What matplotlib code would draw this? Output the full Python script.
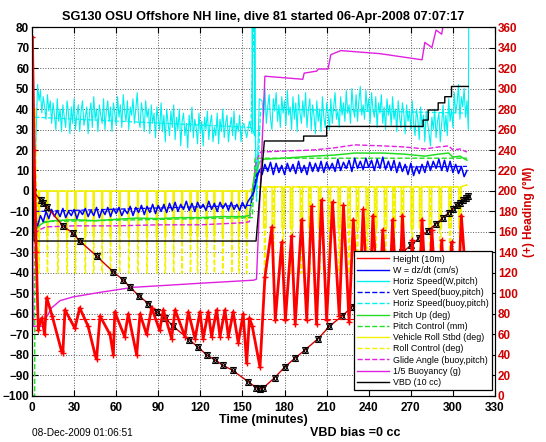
import numpy as np
import matplotlib
matplotlib.use("Agg")
import matplotlib.pyplot as plt
from matplotlib.lines import Line2D

plt.rcParams['font.family'] = ['Liberation Sans', 'DejaVu Sans']

title = "SG130 OSU Offshore NH line, dive 81 started 06-Apr-2008 07:07:17"

# depth (10 m units) at the CTD marker times (minutes)
depth_t = [0, 0.7, 6.4, 7.8, 10.7, 22, 29, 34, 46, 58, 65, 70, 76, 83, 89, 95, 100.6, 112, 118,
           124.6, 130.4, 136, 143, 154, 160, 162.5, 165, 173, 180, 187.5, 194.5, 204, 212, 221,
           228, 235, 242, 249, 256, 264, 270, 276, 282, 288, 293, 297, 300, 303, 305, 307, 309, 311]
depth_v = [0, -0.5, -4.4, -5.9, -7.8, -17, -20.5, -24.4, -31.7, -39.5, -43.4, -47, -51, -55, -59,
           -62, -66, -72.5, -76, -80, -82.4, -85, -87.5, -93, -96, -96.6, -96, -91, -86, -81.5,
           -77.6, -72, -66, -61, -56.6, -51.5, -46, -41, -36, -30, -26.5, -23, -19.5, -16, -13,
           -10.5, -9, -7, -6, -4.5, -3.5, -2.5]

# heading (deg, right axis)
head_t = [0.3, 1.5, 3, 4.5, 5.5, 7, 9, 10.5, 14.4, 21, 22, 23.5, 30.6, 34, 40, 45, 46, 48.5, 55.6,
          58, 59, 66, 68.6, 74.6, 77, 81.7, 85.3, 91, 93.6, 99.5, 102, 109, 111.4, 116.2, 119.7,
          122, 125.6, 128, 131.6, 134, 137.5, 140, 143.4, 147, 150.5, 153, 155, 157, 162.5, 166,
          171, 173.4, 178, 180.6, 185, 187.6, 192.2, 195.8, 199.3, 202.8, 206.4, 210, 214.2, 219,
          222, 226, 229, 233, 236, 240, 243, 247, 250, 254, 257, 261, 264, 268, 271, 275, 278,
          282, 285, 289, 292, 296, 299, 303, 306, 309]
head_deg = [350, 240, 140, 64, 72, 76, 60, 96, 78, 44, 42, 84, 66, 86, 68, 40, 36, 78, 60,
            40, 82, 58, 80, 40, 80, 60, 86, 64, 84, 56, 84, 58, 82, 56, 82,
            56, 82, 58, 84, 58, 84, 58, 82, 52, 80, 32, 76, 68, 28, 116,
            165, 74, 150, 74, 156, 70, 172, 74, 185, 70, 191, 74, 189, 78,
            186, 72, 172, 70, 182, 68, 176, 72, 162, 70, 172, 68, 176, 70, 152, 68, 172,
            66, 162, 68, 152, 66, 150, 70, 176, 120]
head_target = 75

# horizontal speed (W, pitch), cm/s, descent every minute from t=2 to 150
hspd_desc = [12, 30, 52, 44, 49, 38, 46, 41, 35, 47,
             39, 44, 33, 43, 37, 30, 45, 34, 40, 29,
             42, 36, 31, 44, 38, 28, 41, 33, 45, 30,
             37, 42, 29, 39, 44, 32, 36, 41, 28, 38,
             43, 31, 46, 35, 40, 29, 42, 37, 33, 45,
             30, 39, 44, 34, 41, 29, 43, 38, 32, 46,
             36, 42, 31, 47, 39, 34, 44, 30, 41, 37,
             45, 33, 40, 48, 35, 31, 43, 38, 29, 44,
             36, 40, 28, 42, 33, 38, 26, 41, 35, 30,
             43, 29, 37, 24, 40, 33, 27, 39, 31, 42,
             25, 36, 30, 40, 22, 34, 38, 27, 33, 21,
             37, 29, 41, 26, 35, 31, 23, 38, 28, 34,
             22, 36, 30, 39, 25, 33, 37, 24, 31, 27,
             38, 23, 35, 29, 40, 26, 33, 37, 24, 31,
             36, 27, 39, 25, 33, 29, 37, 24, 32]
hspd_turn_t = [151, 153, 155, 156.8, 157, 157.4, 158.6, 158.8, 159.2, 160, 161, 162]
hspd_turn_v = [33, 26, 34, 28, 85, 30, 27, 85, 25, 0, 20, 45]
# ascent every minute from t=164 to 310
hspd_asc = [44, 36, 50, 33, 41, 47, 35, 30, 45, 39,
            48, 34, 42, 31, 46, 38, 44, 32, 49, 37,
            41, 30, 46, 35, 43, 29, 47, 38, 33, 44,
            36, 48, 31, 40, 45, 30, 42, 37, 28, 44,
            34, 40, 29, 46, 36, 31, 43, 38, 30, 45,
            33, 41, 48, 35, 39, 31, 46, 37, 43, 34,
            49, 38, 42, 33, 50, 40, 36, 47, 34, 44,
            51, 37, 42, 35, 49, 39, 45, 33, 48, 40,
            36, 46, 31, 43, 38, 47, 33, 41, 30, 45,
            37, 42, 32, 46, 35, 40, 29, 44, 36, 31,
            43, 38, 28, 42, 34, 39, 30, 44, 33, 27,
            40, 35, 25, 41, 31, 37, 24, 39, 33, 28,
            22, 36, 30, 40, 26, 34, 38, 24, 33, 42,
            29, 37, 27, 45, 34, 40, 31, 48, 38, 43,
            52, 35, 46, 41, 50, 36, 44]
hspd_end_t = [311, 311.3]
hspd_end_v = [30, 85]

# W = dz/dt, cm/s, descent t=2..156, ascent t=164..310 (2 min)
w_desc = [-14, -17, -12, -15, -10, -13.5, -9, -12.5, -9.5, -12.5,
          -8.5, -13, -10, -12, -9, -13.5, -9.5, -11.5, -8.5, -12.5,
          -9.5, -12, -8, -13, -9, -11.5, -8, -12.5, -8.5, -11,
          -8, -12, -9, -11, -7.5, -12, -8, -10.5, -7, -11.5,
          -7.5, -10.5, -6.5, -11, -7, -10, -6.5, -10.5, -6, -9.5,
          -5.5, -10, -6.5, -9, -5, -9.5, -6, -10, -5.5, -8.5,
          -6.5, -9.5, -5, -9, -6, -10, -5.5, -8.5, -6, -9.5,
          -5.5, -9, -6.5, -9.5, -5.5, -8.5, -5, -3]
w_turn_t = [158, 159.5, 161, 162]
w_turn_v = [-1, 4, 8, 10]
w_asc = [8, 13, 9.5, 14, 8, 13.5, 9, 12.5, 8, 13.5,
         9.5, 13, 8.5, 14.5, 9, 12.5, 8, 14, 9.5, 13.5,
         9.5, 14.5, 9, 14, 10.5, 13.5, 9.5, 15.5, 10, 14,
         11, 15, 9.5, 16, 11, 14.5, 10.5, 16, 11.5, 15,
         10, 15.5, 11, 16.5, 10.5, 14.5, 10, 15, 9, 14,
         9.5, 13, 8, 13.5, 7.5, 12, 8.5, 13, 9, 14.5,
         10, 14.5, 11, 15.5, 10, 15, 9.5, 14.5, 9, 13,
         8.5, 12, 7, 10]

# buoyancy-model speeds
vspd_b_t = [2, 156, 160, 163, 310]
vspd_b_v = [-10, -7, 8, 11, 12]
hspd_b_t = [2, 156, 158, 160, 163, 310]
hspd_b_v = [36, 31, 85, -5, 40, 38]

# pitch (deg) and pitch control (mm)
pitch_t = [1.5, 2.5, 5, 8, 15, 30, 45, 60, 75, 90, 105, 120, 135, 150, 155, 157, 158, 162, 165, 180,
           200, 215, 230, 250, 265, 280, 290, 297, 300, 305, 310]
pitch_v = [-14, -19, -17, -15.5, -14.5, -14, -14.5, -13.8, -13.2, -13.5, -13, -13, -12.5, -12.5, -12,
           0, 5, 14, 15.5, 16, 17, 17.5, 18.5, 18.5, 18, 17, 18, 18.5, 16.5, 17, 15]
pitch_ctl_t = [0, 1.9, 2.0, 157, 159, 310]
pitch_ctl_v = [-100, -100, -15, -13, 16, 16]

# glide angle (buoy, pitch)
glide_t = [2, 5, 10, 30, 60, 90, 120, 150, 155, 157, 160, 163, 180, 200, 215, 230, 250, 265, 280,
           290, 297, 300, 305, 310]
glide_v = [-21, -19, -17.5, -17, -17, -16.5, -16.5, -15.5, -15, 0, 15, 19, 19.5, 20, 21, 22.5, 22,
           21.5, 20.5, 21.5, 22, 20, 20.5, 19]

# 1/5 buoyancy (g)
buoy_t = [0, 0.8, 8, 10, 14, 20, 29, 48, 72, 96, 120, 158, 160, 166, 193, 194, 203, 204, 211, 213,
          220, 248, 278, 280, 285, 288, 292, 294]
buoy_v = [85, -66, -66, -62, -57, -53.5, -51.7, -49.5, -47, -46, -45, -43.5, -43, 56, 54.5, 57.5,
          58.5, 59.5, 59.5, 66.5, 68.5, 67, 64, 72.5, 70, 78.5, 76.5, 85]

# VBD (10 cc)
vbd_t = [0, 1.5, 159.7, 165.6, 193.6, 193.6, 210, 210, 278.8, 278.8, 282.4, 282.4, 289.5, 289.5,
         294.2, 294.2, 299, 299, 311]
vbd_v = [45, -24.4, -24.4, 24.4, 24.4, 26.8, 26.8, 31.5, 31.5, 34.6, 34.6, 39.5, 39.5, 43, 43,
         46, 46, 51, 51]

# roll events (minutes) and depth of each roll excursion (deg)
roll_desc_t = [5, 11, 18.5, 25, 31, 38, 44, 50, 56, 62.5, 69, 75.5, 82, 89, 95, 101, 107, 113, 118,
               124.5, 130, 136, 142.5, 147.5, 153]
roll_asc_t = [166, 172, 179, 185, 192, 198, 205, 212, 219, 226, 232, 239, 245, 252, 258, 264, 271,
              277, 284, 291, 298, 305]
roll_desc_low = -22
roll_asc_low = -18
roll_ctl_low = -40


def pulses(times, low, base, width):
    t, v = [], []
    for tc in times:
        t += [tc - width / 2, tc - width / 2, tc + width / 2, tc + width / 2]
        v += [base, low, low, base]
    return t, v


fig = plt.figure(figsize=(5.46, 4.42), dpi=100)
ax = fig.add_axes([0.0586, 0.1041, 0.848, 0.8348])
ax2 = ax.twinx()

RED = '#ff0000'
YEL = '#f2f200'
GRN = '#22dd22'
MAG = '#e020e0'
CYN = '#00f0f0'

# yellow roll
rt, rv = pulses(roll_desc_t, roll_desc_low, 0, 0.8)
rt2, rv2 = pulses(roll_asc_t, roll_asc_low, 2, 1.8)
ax.plot([0, 1, 2] + rt + [157, 160] + rt2 + [310], [20, 20, 0] + rv + [0, 2] + rv2 + [3],
        color=YEL, lw=1)
ct, cv = pulses(roll_desc_t, roll_ctl_low, 0, 0.4)
ct2, cv2 = pulses(roll_asc_t, roll_ctl_low, 2, 0.8)
ax.plot([0, 2.5, 2.8, 3.0, 3.6, 4.0] + ct + [160] + ct2 + [310],
        [0, 40, 40, -30, -30, 0] + cv + [2] + cv2 + [3], color=YEL, lw=1, ls='--')

# cyan horizontal speed
t_hd = np.linspace(2, 150, len(hspd_desc))
t_ha = np.linspace(164, 310, len(hspd_asc))
ax.plot(list(t_hd) + hspd_turn_t + list(t_ha) + hspd_end_t,
        hspd_desc + hspd_turn_v + hspd_asc + hspd_end_v, color=CYN, lw=0.8)
ax.plot(hspd_b_t, hspd_b_v, color=CYN, lw=0.9, ls='--')

ax.plot(glide_t, glide_v, color=MAG, lw=1, ls='--')
ax.plot(pitch_t, pitch_v, color=GRN, lw=1.1)
ax.plot(pitch_ctl_t, pitch_ctl_v, color=GRN, lw=1, ls='--')

# blue W
t_wd = np.linspace(2, 156, len(w_desc))
t_wa = np.linspace(164, 310, len(w_asc))
ax.plot(list(t_wd) + w_turn_t + list(t_wa), w_desc + w_turn_v + w_asc, color='b', lw=1.1)
ax.plot(vspd_b_t, vspd_b_v, color='b', lw=0.9, ls='--')

ax.plot(buoy_t, buoy_v, color=MAG, lw=1)
ax.plot(vbd_t, vbd_v, color='k', lw=1)

# depth V with CTD markers
ax.plot(depth_t, depth_v, color='#d00000', lw=1)
ax.plot(depth_t, depth_v, ls='none', marker='^', ms=4.5, mfc='none', mec='k', mew=0.8)
ax.plot(depth_t, depth_v, ls='none', marker='v', ms=4.5, mfc='none', mec='k', mew=0.8)

ax.set_xlim(0, 330)
ax.set_ylim(-100, 80)
ax.set_xticks(np.arange(0, 331, 30))
ax.set_yticks(np.arange(-100, 81, 10))
ax.grid(True, ls=':', color='0.35', lw=0.7)
ax.set_axisbelow(True)
ax.tick_params(direction='in', top=True, length=4, labelsize=8.5, pad=2)
ax.tick_params(axis='x', pad=4.5)
for lab in ax.get_xticklabels() + ax.get_yticklabels():
    lab.set_fontweight('bold')

# heading on the right axis
ax2.plot([0, 311], [head_target, head_target], color=RED, lw=0.8, ls='--')
ax2.plot(head_t, head_deg, color=RED, lw=2.0, marker='+', ms=5, mew=1.0)
ax2.set_ylim(0, 360)
ax2.set_yticks(np.arange(0, 361, 20))
ax2.tick_params(direction='in', length=4, labelsize=8.5, colors='k', labelcolor='#d00000', pad=2)
for lab in ax2.get_yticklabels():
    lab.set_fontweight('bold')
ax2.set_ylabel('(+) Heading (°M)', color='#d00000', fontsize=8.5, fontweight='bold', labelpad=4)

ax.set_title(title, fontsize=9.2, fontweight='bold', pad=5)
ax.set_xlabel('Time (minutes)', fontsize=9, fontweight='bold', labelpad=0)

labels = ['Height (10m)', 'W = dz/dt (cm/s)', 'Horiz Speed(W,pitch)', 'Vert Speed(buoy,pitch)',
          'Horiz Speed(buoy,pitch)', 'Pitch Up (deg)', 'Pitch Control (mm)',
          'Vehicle Roll Stbd (deg)', 'Roll Control (deg)', 'Glide Angle (buoy,pitch)',
          '1/5 Buoyancy (g)', 'VBD (10 cc)']
styles = [(RED, '-'), ('b', '-'), (CYN, '-'), ('b', '--'), (CYN, '--'), (GRN, '-'), (GRN, '--'),
          (YEL, '-'), (YEL, '--'), (MAG, '--'), (MAG, '-'), ('k', '-')]
handles = [Line2D([], [], color=c, ls=s, lw=1) for c, s in styles]
leg = ax2.legend(handles, labels, loc='lower right', bbox_to_anchor=(0.994, 0.016),
                 borderaxespad=0, fontsize=6.4, handlelength=3.6, handletextpad=0.5,
                 labelspacing=0.25, borderpad=0.35, fancybox=False, framealpha=1, edgecolor='k')
leg.get_frame().set_linewidth(0.9)

fig.text(32 / 546, 1 - 433 / 442, '08-Dec-2009 01:06:51', fontsize=7.3, va='center')
fig.text(310 / 546, 1 - 433 / 442, 'VBD bias =0 cc', fontsize=9, fontweight='bold', va='center')

fig.savefig('out.png', dpi=100)
